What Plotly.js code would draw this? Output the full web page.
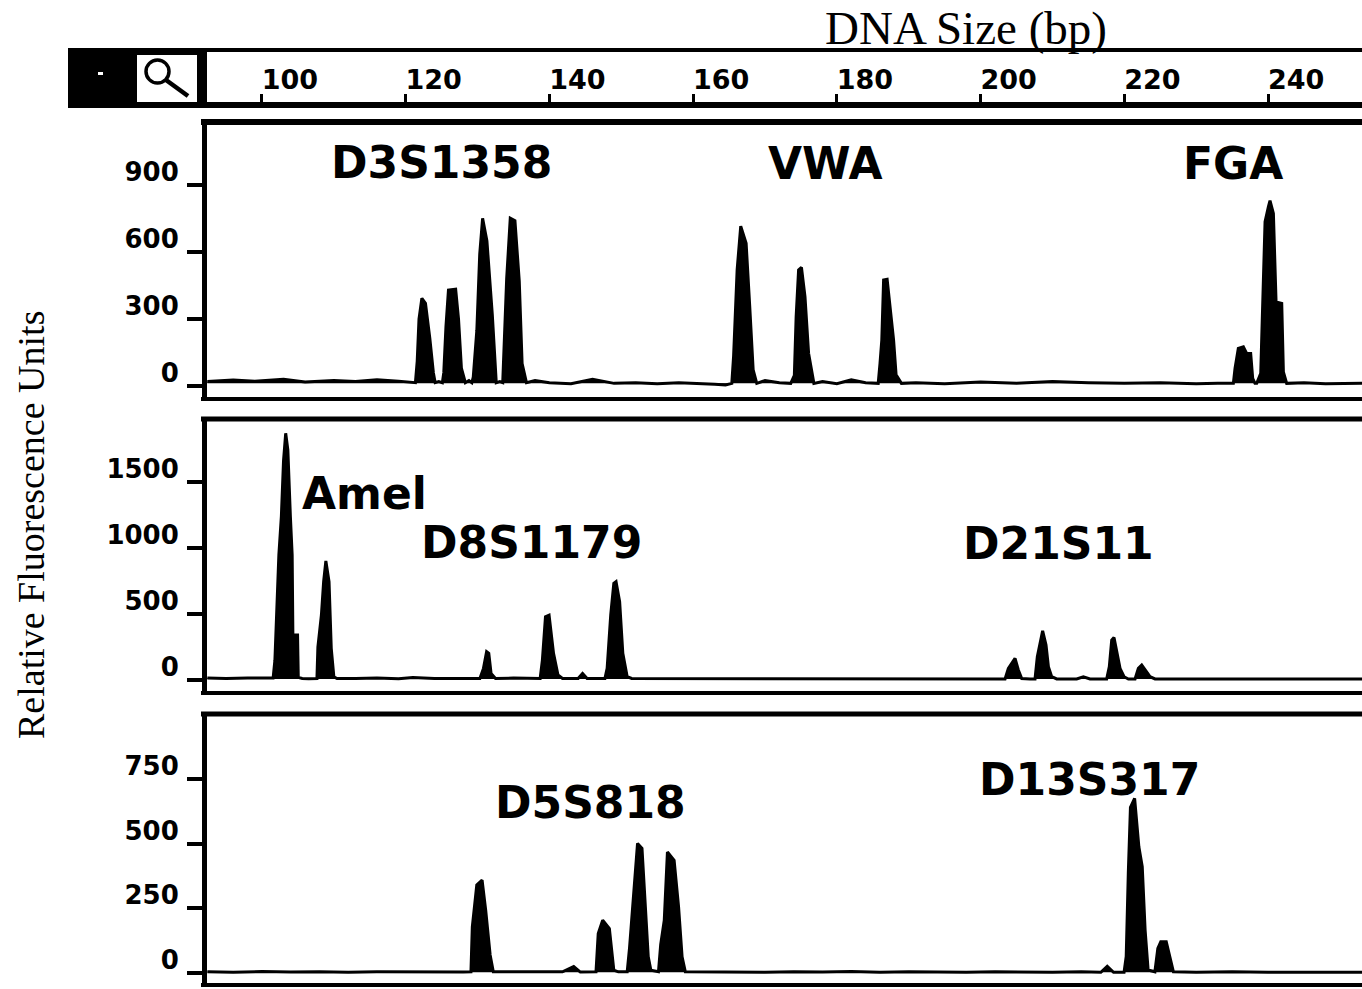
<!DOCTYPE html>
<html>
<head>
<meta charset="utf-8">
<script src="https://cdn.plot.ly/plotly-3.0.1.min.js"></script>
<style>html,body{margin:0;padding:0;background:#fff;}#chart{width:1362px;height:989px;}</style>
</head>
<body>
<div id="chart"></div>
<script>
// ---------- DATA ----------
const xTitle = "DNA Size (bp)";
const yTitle = "Relative Fluorescence Units";
const rulerTicks = [100, 120, 140, 160, 180, 200, 220, 240];

const panel1Ticks = [0, 300, 600, 900];
const panel2Ticks = [0, 500, 1000, 1500];
const panel3Ticks = [0, 250, 500, 750];

const panel1Loci = ["D3S1358", "VWA", "FGA"];
const panel2Loci = ["Amel", "D8S1179", "D21S11"];
const panel3Loci = ["D5S818", "D13S317"];

// Panel 1 trace (bp, RFU)
const p1X = [92.4, 96, 99, 103, 106, 110, 113, 116, 119, 120.8,
  121.35, 121.6, 121.85, 122.25, 122.75, 123.35, 123.85, 124.1,
  124.6, 125.1, 125.3, 125.6, 125.95, 126.95, 127.35, 127.75, 128.3,
  128.8, 129.2, 129.4, 129.9, 130.3, 130.7, 131.3, 132.05, 132.6,
  133.1, 133.5, 133.6, 134.05, 134.55, 135.2, 135.8, 136.2, 136.8,
  138, 140, 143, 146, 149, 152, 155, 158, 161, 163, 164.5,
  165.38, 165.63, 166.12, 166.62, 167.37, 167.86, 168.35, 168.85,
  170, 172, 173.58, 174.08, 174.33, 174.67, 175.07, 175.56, 176.06, 176.8,
  178, 180, 182, 184, 185.75, 186.0, 186.25, 186.5, 186.99, 187.89, 188.24, 188.98,
  191, 195, 200, 205, 210, 215, 220, 225, 230, 233,
  235.17, 235.4, 235.86, 236.56, 237.02, 237.58, 237.86, 238.18,
  238.42, 238.98, 239.26, 239.58, 240.05, 240.27, 240.74, 241.11, 241.9, 242.13, 242.59,
  245, 248, 253.1];
const p1Y = [20, 27, 22, 30, 18, 25, 20, 28, 22, 15,
  15, 110, 300, 393, 370, 215, 60, 15,
  20, 15, 60, 265, 430, 434, 300, 80, 15,
  25, 15, 40, 250, 590, 751, 650, 320, 15,
  20, 15, 100, 480, 751, 740, 470, 100, 15,
  25, 15, 10, 30, 12, 15, 10, 15, 12, 8, 5,
  12, 135, 520, 716, 639, 362, 72, 12,
  25, 15, 12, 48, 310, 520, 531, 400, 147, 12,
  20, 10, 28, 15, 12, 102, 206, 475, 478, 206, 50, 12,
  15, 10, 18, 12, 20, 15, 12, 15, 10, 12,
  12, 79, 169, 176, 146, 146, 34, 12,
  12, 57, 377, 736, 803, 830, 773, 377, 370, 63, 12,
  15, 10, 12];

// Panel 2 trace
const p2X = [92.4, 95, 98, 100, 101.2,
  101.55, 101.8, 102.35, 102.7, 103.0, 103.3, 103.6, 103.95, 104.2, 104.3, 104.95, 105.05,
  105.6, 106.5, 107.65, 107.78, 108.27, 108.58, 108.89, 109.33, 109.64, 110.0, 110.44,
  113, 116, 119, 121, 124, 127, 130.32, 130.82, 131.26, 131.56, 131.88, 132.5,
  135, 138.71, 139.02, 139.45, 139.95, 140.57, 141.19, 141.82,
  143.99, 144.61, 145.24,
  147.72, 148.03, 148.53, 148.96, 149.27, 149.77, 150.21, 150.82, 151.44,
  155, 160, 165, 170, 175, 180, 185, 190, 195, 200,
  203.4, 203.86, 204.32, 204.79, 205.25, 205.72, 206.88,
  207.57, 207.89, 208.26, 208.63, 209.1, 209.43, 209.89, 210.59,
  213.37, 214.3, 215.22,
  217.54, 217.91, 218.24, 218.56, 218.93, 219.4, 219.96, 220.56,
  221.49, 221.95, 222.42, 222.88, 223.57, 224.27,
  228, 235, 242, 253.1];
const p2Y = [15, 12, 15, 12, 12,
  15, 150, 945, 1240, 1660, 1866, 1740, 1240, 945, 340, 340, 20,
  12, 10, 12, 250, 492, 744, 900, 744, 240, 25, 12,
  12, 15, 10, 20, 12, 12, 12, 88, 214, 202, 50, 12,
  15, 12, 151, 479, 491, 202, 38, 12,
  12, 50, 12,
  12, 88, 492, 731, 744, 593, 202, 25, 12,
  12, 10, 12, 10, 12, 10, 12, 10, 12, 10,
  8, 88, 126, 164, 76, 12, 8,
  8, 176, 265, 373, 265, 101, 25, 8,
  8, 25, 8,
  8, 101, 302, 322, 227, 88, 25, 8,
  8, 88, 113, 76, 25, 8,
  8, 8, 8, 8];

// Panel 3 trace
const p3X = [92.4, 96, 100, 104, 108, 112, 116, 120, 124, 128,
  129.08, 129.27, 129.89, 130.63, 131.13, 131.75, 132.19,
  135, 138, 141.82, 143.38, 144.3,
  146.48, 146.79, 147.41, 148.34, 148.96, 149.58,
  150.82, 151.14, 151.76, 152.26, 152.88, 153.31, 153.75, 154.12,
  154.5, 155.17, 155.48, 155.98, 156.42, 157.35, 157.97, 158.46, 158.91,
  162, 166, 170, 174, 178, 182, 186, 190, 194, 198, 202, 206, 210, 214,
  216.73, 217.62, 218.5,
  219.96, 220.26, 220.55, 220.85, 221.43, 222.02, 222.49, 222.89, 223.31,
  224.25, 224.66, 225.07, 225.83, 226.42, 226.83,
  230, 235, 240, 245, 253.1];
const p3Y = [5, 3, 6, 4, 5, 3, 5, 4, 5, 4,
  5, 179, 340, 359, 243, 70, 5,
  4, 5, 5, 25, 4,
  5, 153, 204, 172, 11, 5,
  5, 95, 340, 501, 482, 295, 63, 11,
  8, 5, 110, 204, 468, 436, 256, 63, 5,
  4, 5, 3, 5, 4, 6, 3, 5, 4, 3, 5, 4, 3, 5,
  3, 26, 3,
  3, 64, 385, 640, 675, 488, 411, 166, 12,
  5, 95, 121, 121, 57, 5,
  3, 5, 3, 4, 3];

// Base levels of each lane trace
const baseLevels = [12, 8, 3];

// ---------- LAYOUT HELPERS ----------
const W = 1362, H = 989;
const px = v => v / W;
const py = v => 1 - v / H;

const xRange = [92.35, 253.07];
const xDomain = [px(207), 1];

const tickFont = {family: "DejaVu Sans", size: 26, color: "black", weight: "bold"};
const locusFont = {family: "DejaVu Sans", size: 44, color: "black", weight: "bold"};

function yAxis(domainTopPx, domainBotPx, range, ticks) {
  return {
    domain: [py(domainBotPx), py(domainTopPx)],
    range: range,
    anchor: "x",
    tickmode: "array",
    tickvals: ticks,
    ticktext: ticks.map(String),
    ticks: "outside",
    ticklen: 15,
    tickwidth: 4,
    tickcolor: "black",
    showline: true,
    linewidth: 5,
    linecolor: "black",
    showgrid: false,
    zeroline: false,
    tickfont: tickFont,
    ticklabelshift: -13,
    ticklabelstandoff: 3,
    fixedrange: true
  };
}

function lane(xs, ys, base, yref) {
  return [
    {x: [xs[0], xs[xs.length - 1]], y: [base, base], type: "scatter", mode: "lines",
     line: {width: 0, color: "rgba(0,0,0,0)"}, xaxis: "x", yaxis: yref, hoverinfo: "skip"},
    {x: xs, y: ys, type: "scatter", mode: "lines", fill: "tonexty",
     fillcolor: "black", line: {width: 3, color: "black"}, xaxis: "x", yaxis: yref}
  ];
}

const traces = [].concat(
  lane(p1X, p1Y, baseLevels[0], "y"),
  lane(p2X, p2Y, baseLevels[1], "y2"),
  lane(p3X, p3Y, baseLevels[2], "y3"),
  // invisible trace to activate the ruler axis
  [{x: xRange, y: [0.5, 0.5], type: "scatter", mode: "lines", line: {width: 0, color: "rgba(0,0,0,0)"},
    xaxis: "x2", yaxis: "y4", hoverinfo: "skip"}]
);

function locus(text, cx, cy) {
  return {text: text, xref: "paper", yref: "paper", x: px(cx), y: py(cy),
          xanchor: "center", yanchor: "middle", showarrow: false, font: locusFont};
}

const annotations = [
  locus(panel1Loci[0], 441, 162), locus(panel1Loci[1], 825, 163), locus(panel1Loci[2], 1233, 163),
  locus(panel2Loci[0], 364, 493), locus(panel2Loci[1], 531, 542), locus(panel2Loci[2], 1058, 543),
  locus(panel3Loci[0], 590, 802), locus(panel3Loci[1], 1089, 779),
  {text: xTitle, xref: "paper", yref: "paper", x: px(966), y: py(28), xanchor: "center", yanchor: "middle",
   showarrow: false, font: {family: "Liberation Serif", size: 47, color: "black"}},
  {text: yTitle, xref: "paper", yref: "paper", x: px(31), y: py(525), xanchor: "center", yanchor: "middle",
   textangle: -90, showarrow: false, font: {family: "Liberation Serif", size: 38, color: "black"}}
];

function hline(y, x0, x1, w) {
  return {type: "line", xref: "paper", yref: "paper", x0: px(x0), x1: px(x1), y0: py(y), y1: py(y),
          line: {color: "black", width: w}};
}

const shapes = [
  // header control box
  {type: "rect", xref: "paper", yref: "paper", x0: px(68), x1: px(207), y0: py(108), y1: py(48),
   fillcolor: "black", line: {width: 0}},
  {type: "rect", xref: "paper", yref: "paper", x0: px(137), x1: px(197), y0: py(102), y1: py(55),
   fillcolor: "white", line: {width: 0}},
  {type: "rect", xref: "paper", yref: "paper", x0: px(98), x1: px(103), y0: py(75), y1: py(72),
   fillcolor: "white", line: {width: 0}},
  {type: "circle", xref: "paper", yref: "paper", x0: px(146), x1: px(169), y0: py(83), y1: py(60),
   line: {color: "black", width: 3.5}},
  {type: "line", xref: "paper", yref: "paper", x0: px(166), x1: px(188), y0: py(80), y1: py(96),
   line: {color: "black", width: 4.5}},
  hline(50, 205, 1362, 4),
  // panel frames
  hline(122, 201, 1362, 6), hline(399, 201, 1362, 4),
  hline(419, 201, 1362, 5), hline(693, 201, 1362, 4),
  hline(714, 201, 1362, 5), hline(985, 201, 1362, 4)
];

const layout = {
  width: W, height: H,
  margin: {l: 0, r: 0, t: 0, b: 0, pad: 0},
  paper_bgcolor: "white", plot_bgcolor: "rgba(0,0,0,0)",
  showlegend: false,
  xaxis: {domain: xDomain, range: xRange, anchor: "y3", visible: false, fixedrange: true},
  xaxis2: {
    domain: xDomain, range: xRange, anchor: "y4",
    tickmode: "array", tickvals: rulerTicks, ticktext: rulerTicks.map(String),
    ticks: "inside", ticklen: 8, tickwidth: 3, tickcolor: "black",
    ticklabelposition: "inside", ticklabelshift: 28, ticklabelstandoff: 2,
    showline: true, linewidth: 6, linecolor: "black",
    showgrid: false, zeroline: false,
    tickfont: {family: "DejaVu Sans", size: 27, color: "black", weight: "bold"},
    fixedrange: true
  },
  yaxis: yAxis(122, 399, [-58, 1182], panel1Ticks),
  yaxis2: yAxis(419, 693, [-98, 1974], panel2Ticks),
  yaxis3: yAxis(714, 985, [-46, 1001], panel3Ticks),
  yaxis4: {domain: [py(102), py(50)], range: [0, 1], anchor: "x2", visible: false, fixedrange: true},
  annotations: annotations,
  shapes: shapes
};

Plotly.newPlot("chart", traces, layout, {staticPlot: true, displayModeBar: false});
</script>
</body>
</html>
